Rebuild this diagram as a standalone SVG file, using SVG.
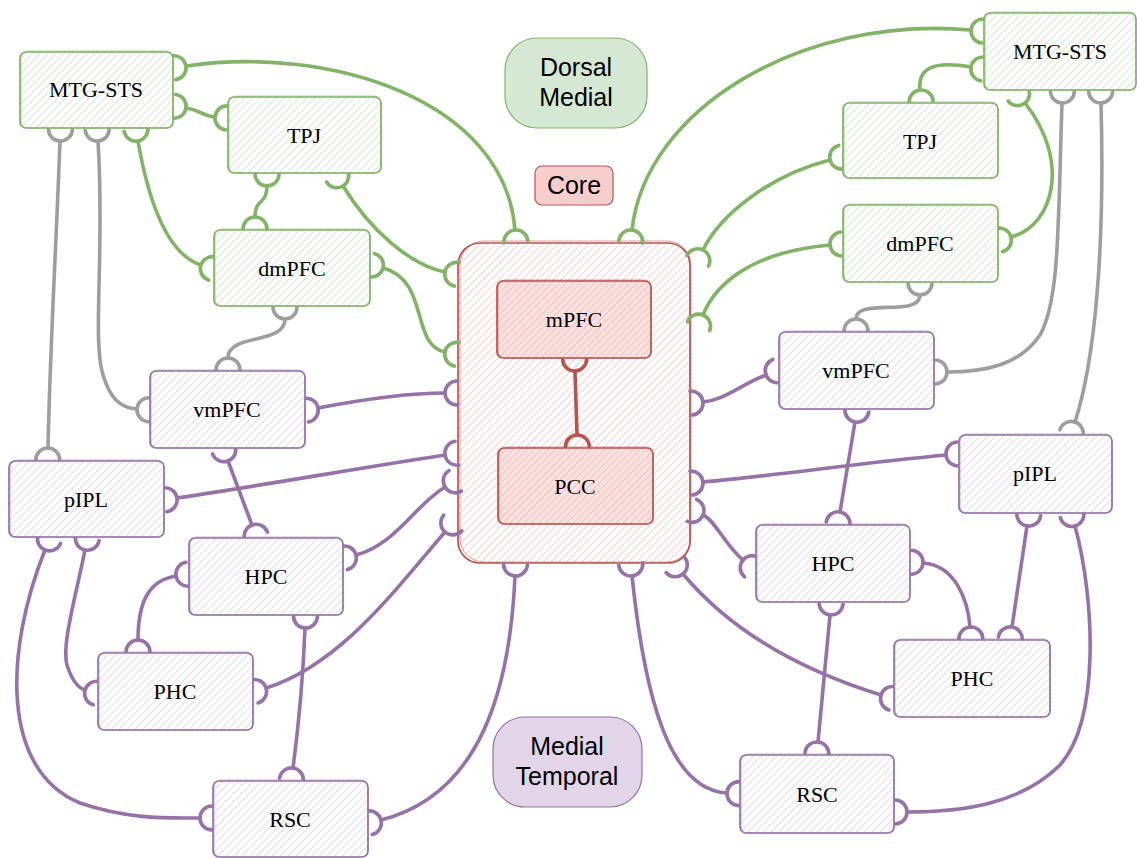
<svg xmlns="http://www.w3.org/2000/svg" width="1137" height="858" viewBox="0 0 1137 858">
  <defs>
    <style>
      .nb { stroke-width: 1.7; stroke-linejoin: round; }
      .sk { fill: none; stroke-width: 1; stroke-opacity: 0.55; }
      .gN { fill: url(#hg); stroke: #82b366; }
      .pN { fill: url(#hp); stroke: #9673a6; }
      .rN { fill: url(#hr); stroke: #b85450; }
      .gS { stroke: #82b366; }
      .pS { stroke: #9673a6; }
      .rS { stroke: #b85450; }
      .lbl { font-family: "Liberation Serif", "Times New Roman", serif; font-size: 22px; fill: #000; text-anchor: middle; }
      .tag { font-family: "Liberation Sans", Arial, sans-serif; font-size: 25px; fill: #000; text-anchor: middle; }
      .e { fill: none; stroke-width: 3.6; stroke-linecap: round; }
      .eg { stroke: #82b366; marker-start: url(#mg); marker-end: url(#mg); }
      .ep { stroke: #9673a6; marker-start: url(#mp); marker-end: url(#mp); }
      .ea { stroke: #9e9e9e; marker-start: url(#ma); marker-end: url(#ma); }
      .er { stroke: #b85450; marker-start: url(#mr); marker-end: url(#mr); }
    </style>
    <!-- hachure fills -->
    <pattern id="hg" width="5.5" height="5.5" patternUnits="userSpaceOnUse" patternTransform="rotate(45)">
      <rect width="5.5" height="5.5" fill="#fff"/>
      <line x1="0" y1="0" x2="0" y2="5.5" stroke="#c3dbbf" stroke-width="1.3"/>
    </pattern>
    <pattern id="hp" width="5.5" height="5.5" patternUnits="userSpaceOnUse" patternTransform="rotate(45)">
      <rect width="5.5" height="5.5" fill="#fff"/>
      <line x1="0" y1="0" x2="0" y2="5.5" stroke="#d6c9de" stroke-width="1.3"/>
    </pattern>
    <pattern id="hr" width="5.5" height="5.5" patternUnits="userSpaceOnUse" patternTransform="rotate(45)">
      <rect width="5.5" height="5.5" fill="#fff"/>
      <line x1="0" y1="0" x2="0" y2="5.5" stroke="#f2b9b6" stroke-width="1.3"/>
    </pattern>
    <pattern id="hr2" width="5" height="5" patternUnits="userSpaceOnUse" patternTransform="rotate(45)">
      <rect width="5" height="5" fill="#fbe1e0"/>
      <line x1="0" y1="0" x2="0" y2="5" stroke="#f0b2af" stroke-width="1.3"/>
    </pattern>
    <!-- half-circle connector ends, opening toward the node -->
    <marker id="mg" viewBox="-3 -15 30 30" markerWidth="30" markerHeight="30" refX="0" refY="0" orient="auto-start-reverse" markerUnits="userSpaceOnUse" overflow="visible">
      <path d="M12,-12 A12,12 0 0 0 12,12" fill="none" stroke="#82b366" stroke-width="3.6" stroke-linecap="round"/>
    </marker>
    <marker id="mp" viewBox="-3 -15 30 30" markerWidth="30" markerHeight="30" refX="0" refY="0" orient="auto-start-reverse" markerUnits="userSpaceOnUse" overflow="visible">
      <path d="M12,-12 A12,12 0 0 0 12,12" fill="none" stroke="#9673a6" stroke-width="3.6" stroke-linecap="round"/>
    </marker>
    <marker id="ma" viewBox="-3 -15 30 30" markerWidth="30" markerHeight="30" refX="0" refY="0" orient="auto-start-reverse" markerUnits="userSpaceOnUse" overflow="visible">
      <path d="M12,-12 A12,12 0 0 0 12,12" fill="none" stroke="#9e9e9e" stroke-width="3.6" stroke-linecap="round"/>
    </marker>
    <marker id="mr" viewBox="-3 -15 30 30" markerWidth="30" markerHeight="30" refX="0" refY="0" orient="auto-start-reverse" markerUnits="userSpaceOnUse" overflow="visible">
      <path d="M12,-12 A12,12 0 0 0 12,12" fill="none" stroke="#b85450" stroke-width="3.6" stroke-linecap="round"/>
    </marker>
  </defs>

  <rect width="1137" height="858" fill="#fff"/>

  <!-- legend tags -->
  <g id="tag-dorsal-medial">
    <rect x="505" y="38" width="142" height="90" rx="32" fill="#d5e8d4" stroke="#82b366" stroke-width="1.2"/>
    <text class="tag" x="576" y="76">Dorsal</text>
    <text class="tag" x="576" y="106">Medial</text>
  </g>
  <g id="tag-core">
    <rect x="535" y="166" width="78" height="39" rx="7" fill="#f8cecc" stroke="#b85450" stroke-width="1.2"/>
    <text class="tag" x="574" y="194">Core</text>
  </g>
  <g id="tag-medial-temporal">
    <rect x="493" y="717" width="149" height="90" rx="32" fill="#e1d5e7" stroke="#9673a6" stroke-width="1.2"/>
    <text class="tag" x="567" y="755">Medial</text>
    <text class="tag" x="567" y="785">Temporal</text>
  </g>

  <!-- core container -->
  <g id="core">
    <rect class="nb rN" x="458" y="243" width="232" height="320" rx="22"/>
    <rect class="sk rS" x="460" y="241" width="231" height="321" rx="24"/>
  </g>

  <!-- connectors -->
  <g id="connectors">
    <!-- dorsal medial, left -->
    <path class="e eg" d="M186,66 C330,45 505,100 515,230"/>
    <path class="e eg" d="M186,108 C200,110 202,116 215,117"/>
    <path class="e eg" d="M138,141 C150,210 170,255 201,265"/>
    <path class="e eg" d="M267,186 C267,205 255,198 255,217"/>
    <path class="e eg" d="M343,186 C370,230 410,265 445,272"/>
    <path class="e eg" d="M383,268 C430,280 410,345 445,352"/>
    <!-- dorsal medial, right -->
    <path class="e eg" d="M971,30 C800,15 645,110 632,230"/>
    <path class="e eg" d="M971,67 C930,60 918,70 920,90"/>
    <path class="e eg" d="M1025,103 C1070,160 1055,225 1011,237"/>
    <path class="e eg" d="M830,160 C770,175 720,215 703,250"/>
    <path class="e eg" d="M830,245 C750,252 715,285 703,315"/>
    <!-- cross-network links -->
    <path class="e ea" d="M60,141 C56,250 50,350 48,448"/>
    <path class="e ea" d="M98,141 C105,250 92,340 103,375 C110,398 120,408 137,409"/>
    <path class="e ea" d="M285,319 C285,345 228,333 228,358"/>
    <path class="e ea" d="M920,295 C920,318 856,297 856,319"/>
    <path class="e ea" d="M1062,103 C1058,220 1060,300 1040,335 C1020,365 985,372 947,372"/>
    <path class="e ea" d="M1101,103 C1105,250 1095,360 1075,422"/>
    <!-- medial temporal, left -->
    <path class="e ep" d="M318,408 C360,400 410,393 445,393"/>
    <path class="e ep" d="M228,461 L252,525"/>
    <path class="e ep" d="M177,498 C270,484 360,468 445,455"/>
    <path class="e ep" d="M356,555 C395,545 415,505 445,487"/>
    <path class="e ep" d="M266,688 C340,665 395,590 445,532"/>
    <path class="e ep" d="M176,576 C150,580 138,600 138,640"/>
    <path class="e ep" d="M305,628 C303,680 298,730 293,768"/>
    <path class="e ep" d="M45,550 C5,650 0,770 80,803 C130,820 170,818 200,818"/>
    <path class="e ep" d="M85,550 C75,600 60,650 68,668 C73,682 78,688 85,690"/>
    <path class="e ep" d="M515,576 C510,690 480,795 381,820"/>
    <!-- medial temporal, right -->
    <path class="e ep" d="M632,576 C645,700 670,790 727,793"/>
    <path class="e ep" d="M683,574 C730,630 800,670 881,695"/>
    <path class="e ep" d="M766,375 C740,385 725,400 703,402"/>
    <path class="e ep" d="M946,455 C860,463 780,475 703,482"/>
    <path class="e ep" d="M743,560 C725,545 715,520 703,515"/>
    <path class="e ep" d="M855,422 L840,512"/>
    <path class="e ep" d="M923,563 C955,565 968,600 970,627"/>
    <path class="e ep" d="M1027,526 L1012,627"/>
    <path class="e ep" d="M1075,526 C1095,600 1100,720 1060,765 C1020,805 960,812 907,812"/>
    <path class="e ep" d="M830,615 L818,742"/>
    <!-- core internal -->
    <path class="e er" d="M575,371 L577,435"/>
  </g>

  <!-- core hubs -->
  <g id="mPFC">
    <rect class="nb rN" x="497" y="281" width="154" height="77" rx="6" style="fill:url(#hr2)"/>
    <rect class="sk rS" x="498" y="280" width="153" height="78" rx="7"/>
    <text class="lbl" x="574" y="327">mPFC</text>
  </g>
  <g id="PCC">
    <rect class="nb rN" x="498" y="448" width="155" height="76" rx="6" style="fill:url(#hr2)"/>
    <rect class="sk rS" x="499" y="447" width="154" height="77" rx="7"/>
    <text class="lbl" x="575" y="494">PCC</text>
  </g>

  <!-- dorsal medial subsystem -->
  <g id="MTG-STS-L">
    <rect class="nb gN" x="20" y="52" width="153" height="76" rx="6"/>
    <rect class="sk gS" x="21" y="51" width="152" height="77" rx="7"/>
    <text class="lbl" x="96" y="97">MTG-STS</text>
  </g>
  <g id="TPJ-L">
    <rect class="nb gN" x="228" y="97" width="153" height="76" rx="6"/>
    <rect class="sk gS" x="229" y="96" width="152" height="77" rx="7"/>
    <text class="lbl" x="304" y="143">TPJ</text>
  </g>
  <g id="dmPFC-L">
    <rect class="nb gN" x="214" y="230" width="156" height="76" rx="6"/>
    <rect class="sk gS" x="215" y="229" width="155" height="77" rx="7"/>
    <text class="lbl" x="292" y="276">dmPFC</text>
  </g>
  <g id="MTG-STS-R">
    <rect class="nb gN" x="984" y="13" width="152" height="77" rx="6"/>
    <rect class="sk gS" x="985" y="12" width="151" height="78" rx="7"/>
    <text class="lbl" x="1060" y="59">MTG-STS</text>
  </g>
  <g id="TPJ-R">
    <rect class="nb gN" x="843" y="103" width="155" height="75" rx="6"/>
    <rect class="sk gS" x="844" y="102" width="154" height="76" rx="7"/>
    <text class="lbl" x="920" y="149">TPJ</text>
  </g>
  <g id="dmPFC-R">
    <rect class="nb gN" x="843" y="205" width="155" height="77" rx="6"/>
    <rect class="sk gS" x="844" y="204" width="154" height="78" rx="7"/>
    <text class="lbl" x="920" y="251">dmPFC</text>
  </g>

  <!-- medial temporal subsystem -->
  <g id="vmPFC-L">
    <rect class="nb pN" x="150" y="371" width="155" height="77" rx="6"/>
    <rect class="sk pS" x="151" y="370" width="154" height="78" rx="7"/>
    <text class="lbl" x="227" y="417">vmPFC</text>
  </g>
  <g id="pIPL-L">
    <rect class="nb pN" x="9" y="461" width="155" height="76" rx="6"/>
    <rect class="sk pS" x="10" y="460" width="154" height="77" rx="7"/>
    <text class="lbl" x="86" y="507">pIPL</text>
  </g>
  <g id="HPC-L">
    <rect class="nb pN" x="189" y="538" width="154" height="77" rx="6"/>
    <rect class="sk pS" x="190" y="537" width="153" height="78" rx="7"/>
    <text class="lbl" x="266" y="584">HPC</text>
  </g>
  <g id="PHC-L">
    <rect class="nb pN" x="98" y="653" width="155" height="77" rx="6"/>
    <rect class="sk pS" x="99" y="652" width="154" height="78" rx="7"/>
    <text class="lbl" x="175" y="699">PHC</text>
  </g>
  <g id="RSC-L">
    <rect class="nb pN" x="213" y="781" width="155" height="76" rx="6"/>
    <rect class="sk pS" x="214" y="780" width="154" height="77" rx="7"/>
    <text class="lbl" x="290" y="827">RSC</text>
  </g>
  <g id="vmPFC-R">
    <rect class="nb pN" x="779" y="332" width="155" height="77" rx="6"/>
    <rect class="sk pS" x="780" y="331" width="154" height="78" rx="7"/>
    <text class="lbl" x="856" y="378">vmPFC</text>
  </g>
  <g id="pIPL-R">
    <rect class="nb pN" x="959" y="435" width="153" height="78" rx="6"/>
    <rect class="sk pS" x="960" y="434" width="152" height="79" rx="7"/>
    <text class="lbl" x="1035" y="481">pIPL</text>
  </g>
  <g id="HPC-R">
    <rect class="nb pN" x="756" y="525" width="154" height="77" rx="6"/>
    <rect class="sk pS" x="757" y="524" width="153" height="78" rx="7"/>
    <text class="lbl" x="833" y="571">HPC</text>
  </g>
  <g id="PHC-R">
    <rect class="nb pN" x="894" y="640" width="156" height="77" rx="6"/>
    <rect class="sk pS" x="895" y="639" width="155" height="78" rx="7"/>
    <text class="lbl" x="972" y="686">PHC</text>
  </g>
  <g id="RSC-R">
    <rect class="nb pN" x="740" y="755" width="154" height="78" rx="6"/>
    <rect class="sk pS" x="741" y="754" width="153" height="79" rx="7"/>
    <text class="lbl" x="817" y="802">RSC</text>
  </g>
</svg>
